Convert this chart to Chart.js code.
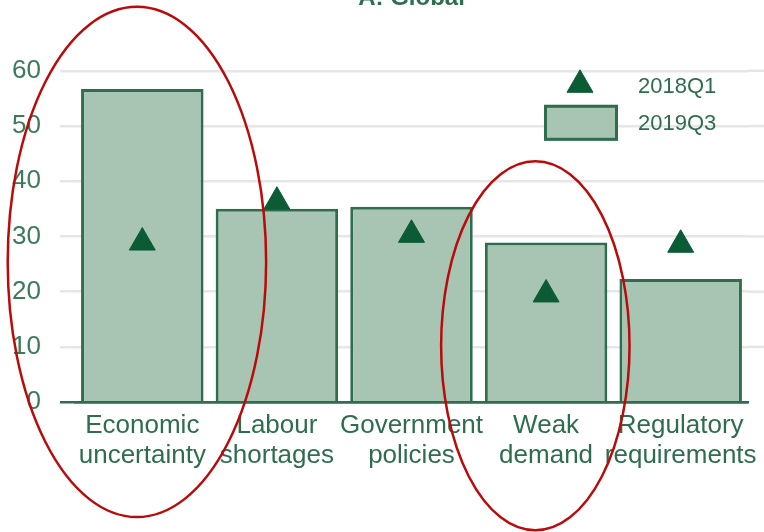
<!DOCTYPE html>
<html>
<head>
<meta charset="utf-8">
<script src="https://cdn.jsdelivr.net/npm/chart.js@4"></script>
<style>
  html, body { margin: 0; padding: 0; background: #fff; overflow: hidden; }
  #wrap { position: absolute; left: 0; top: -20px; width: 764px; height: 552px; }
</style>
</head>
<body>
<div id="wrap"><canvas id="chart"></canvas></div>
<script>
const categories = [['Economic', 'uncertainty'], ['Labour', 'shortages'], ['Government', 'policies'], ['Weak', 'demand'], ['Regulatory', 'requirements']];
const values2019Q3 = [56.7, 35.0, 35.4, 28.9, 22.3];
const values2018Q1 = [28.9, 36.3, 30.3, 19.5, 28.5];
const yTicks = [0, 10, 20, 30, 40, 50, 60];
// red hand-drawn circles: centre (category index, value), radii (categories, value units)
const circles = [
    { x: -0.04, y: 25.4, rx: 0.96, ry: 46.2 },
    { x: 2.92, y: 10.2, rx: 0.70, ry: 33.4 }
];

const green = '#2f6d4f';
const darkGreen = '#0b5c35';
const barFill = '#a8c5b3';

const extras = {
    id: 'extras',
    beforeDatasetsDraw(chart) {
        // gridlines run on to the right edge of the picture
        const ctx = chart.ctx, area = chart.chartArea, y = chart.scales.y;
        ctx.save();
        ctx.strokeStyle = '#e6e6e6';
        ctx.lineWidth = 2.5;
        yTicks.filter(v => v > 0).forEach(v => {
            const py = y.getPixelForValue(v);
            ctx.beginPath();
            ctx.moveTo(area.right, py);
            ctx.lineTo(chart.width, py);
            ctx.stroke();
        });
        ctx.restore();
    },
    afterDraw(chart) {
        const ctx = chart.ctx;
        const area = chart.chartArea;
        const x = chart.scales.x, y = chart.scales.y;

        // legend
        ctx.save();
        ctx.fillStyle = darkGreen;
        ctx.strokeStyle = darkGreen;
        Chart.helpers.drawPoint(ctx, { pointStyle: 'triangle', radius: 15, borderWidth: 1 }, area.right - 168, area.top + 14);
        ctx.fillStyle = barFill;
        ctx.strokeStyle = green;
        ctx.lineWidth = 3;
        ctx.fillRect(area.right - 204, area.top + 34, 74, 36);
        ctx.strokeRect(area.right - 204 + 1.5, area.top + 34 + 1.5, 71, 33);
        ctx.fillStyle = green;
        ctx.font = '22px "Liberation Sans", Arial, sans-serif';
        ctx.textBaseline = 'middle';
        ctx.fillText('2018Q1', area.right - 110, area.top + 16);
        ctx.fillText('2019Q3', area.right - 110, area.top + 53);
        ctx.restore();

        // circles
        const cw = x.getPixelForValue(1) - x.getPixelForValue(0);
        const vu = y.getPixelForValue(0) - y.getPixelForValue(1);
        ctx.save();
        ctx.strokeStyle = '#bb0a0a';
        ctx.lineWidth = 2.5;
        circles.forEach(c => {
            ctx.beginPath();
            ctx.ellipse(x.getPixelForValue(c.x), y.getPixelForValue(c.y), c.rx * cw, c.ry * vu, 0, 0, Math.PI * 2);
            ctx.stroke();
        });
        ctx.restore();
    }
};

new Chart(document.getElementById('chart'), {
    data: {
        labels: categories,
        datasets: [{
            type: 'line',
            label: '2018Q1',
            data: values2018Q1,
            showLine: false,
            pointStyle: 'triangle',
            pointRadius: 15,
            pointHoverRadius: 15,
            pointBackgroundColor: darkGreen,
            pointBorderColor: darkGreen,
            pointBorderWidth: 1,
            order: 1
        }, {
            type: 'bar',
            label: '2019Q3',
            data: values2019Q3,
            backgroundColor: barFill,
            borderColor: green,
            borderWidth: 3,
            categoryPercentage: 0.91,
            barPercentage: 1,
            order: 2
        }]
    },
    options: {
        responsive: true,
        maintainAspectRatio: false,
        animation: false,
        layout: { padding: { left: 0, right: 13, top: 0, bottom: 61 } },
        plugins: {
            legend: { display: false },
            tooltip: { enabled: false },
            title: {
                display: true,
                text: 'A: Global',
                fullSize: false,
                color: green,
                font: { family: '"Liberation Sans", Arial, sans-serif', size: 24, weight: 'bold' },
                padding: { top: 4, bottom: 58 }
            }
        },
        scales: {
            y: {
                min: 0,
                max: 60,
                afterFit: s => { s.width = 75; },
                afterBuildTicks: s => { s.ticks = yTicks.map(v => ({ value: v })); },
                grid: {
                    color: ctx => ctx.tick && ctx.tick.value === 0 ? green : '#e6e6e6',
                    lineWidth: 2.5,
                    tickLength: 15
                },
                border: { display: false },
                ticks: {
                    padding: 19,
                    color: '#3b7a5a',
                    font: { family: '"Liberation Sans", Arial, sans-serif', size: 26 }
                }
            },
            x: {
                grid: { display: false },
                border: { display: true, color: green, width: 2.5 },
                ticks: {
                    padding: 0,
                    color: green,
                    maxRotation: 0,
                    autoSkip: false,
                    font: { family: '"Liberation Sans", Arial, sans-serif', size: 26, lineHeight: 1.17 }
                }
            }
        }
    },
    plugins: [extras]
});
</script>
</body>
</html>
